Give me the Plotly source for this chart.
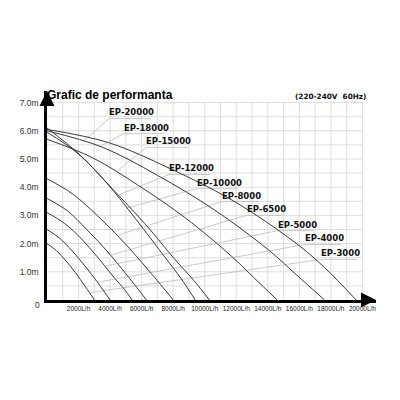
import plotly.graph_objects as go

# pump models and their curves (flow in 1000 L/h, head in m)
models = ["EP-3000", "EP-4000", "EP-5000", "EP-6500", "EP-8000",
          "EP-10000", "EP-12000", "EP-15000", "EP-18000", "EP-20000"]

flow_3000 = [0, 0.6, 1.2, 1.8, 2.4, 2.7, 3.0]
head_3000 = [2.0, 1.75, 1.39, 0.97, 0.5, 0.26, 0]
flow_4000 = [0, 0.8, 1.6, 2.4, 3.2, 3.6, 4.0]
head_4000 = [2.5, 2.19, 1.74, 1.21, 0.63, 0.32, 0]
flow_5000 = [0, 1.1, 2.2, 3.2, 4.3, 4.9, 5.4]
head_5000 = [3.1, 2.72, 2.16, 1.52, 0.77, 0.38, 0]
flow_6500 = [0, 1.3, 2.5, 3.8, 5.0, 5.7, 6.3]
head_6500 = [3.6, 3.16, 2.51, 1.74, 0.93, 0.44, 0]
flow_8000 = [0, 1.6, 3.2, 4.8, 6.4, 7.2, 8.0]
head_8000 = [4.3, 3.77, 2.99, 2.09, 1.08, 0.55, 0]
flow_10000 = [0, 1.9, 3.8, 5.6, 7.5, 8.5, 9.4]
head_10000 = [5.95, 5.22, 4.14, 2.89, 1.5, 0.76, 0]
flow_12000 = [0, 2.1, 4.1, 6.2, 8.2, 9.3, 10.3]
head_12000 = [6.1, 5.14, 3.97, 2.71, 1.38, 0.7, 0]
flow_15000 = [0, 2.9, 5.8, 8.8, 11.7, 13.1, 14.6]
head_15000 = [5.7, 5.04, 4.06, 2.9, 1.55, 0.8, 0]
flow_18000 = [0, 3.5, 7.0, 10.6, 14.1, 15.8, 17.6]
head_18000 = [6.0, 5.42, 4.42, 3.2, 1.75, 0.9, 0]
flow_20000 = [0, 3.9, 7.8, 11.8, 15.7, 17.6, 19.6]
head_20000 = [6.05, 5.58, 4.66, 3.52, 2.05, 1.15, 0]

# callout labels: where the text sits, where its underline ends, where the pointer hits the curve
label_q = [17.4, 16.34, 14.63, 12.65, 11.1, 9.49, 7.74, 6.3, 4.86, 3.95]
label_h = [1.44, 1.97, 2.46, 3.0, 3.49, 3.95, 4.45, 5.41, 5.9, 6.44]
label_end_q = [19.7, 18.64, 16.93, 14.95, 13.4, 12.1, 10.35, 8.9, 7.46, 6.55]
pointer_q = [2.7, 3.2, 3.7, 4.1, 4.5, 5.0, 4.6, 4.4, 3.3, 2.3]
pointer_h = [0.26, 0.63, 1.2, 1.6, 2.3, 3.25, 3.74, 4.55, 5.42, 5.62]

x_ticks = [2, 4, 6, 8, 10, 12, 14, 16, 18, 20]
x_tick_text = ["2000L/h", "4000L/h", "6000L/h", "8000L/h", "10000L/h",
               "12000L/h", "14000L/h", "16000L/h", "18000L/h", "20000L/h"]
y_ticks = [1, 2, 3, 4, 5, 6, 7]
y_tick_text = ["1.0m", "2.0m", "3.0m", "4.0m", "5.0m", "6.0m", "7.0m"]

flows = [flow_3000, flow_4000, flow_5000, flow_6500, flow_8000,
         flow_10000, flow_12000, flow_15000, flow_18000, flow_20000]
heads = [head_3000, head_4000, head_5000, head_6500, head_8000,
         head_10000, head_12000, head_15000, head_18000, head_20000]

fig = go.Figure()

# grid (1000 L/h by 0.5 m), stops at 20000 L/h and 7.0 m
shapes = []
for q in range(1, 21):
    shapes.append(dict(type="line", x0=q, x1=q, y0=0, y1=7, xref="x", yref="y",
                       line=dict(color="#d6d6d6", width=0.8), layer="below"))
for i in range(1, 15):
    h = i * 0.5
    shapes.append(dict(type="line", x0=0, x1=20, y0=h, y1=h, xref="x", yref="y",
                       line=dict(color="#d6d6d6", width=0.8), layer="below"))

# leader lines from the labels to the curves
for i in range(len(models)):
    fig.add_trace(go.Scatter(
        x=[pointer_q[i], label_q[i], label_end_q[i]],
        y=[pointer_h[i], label_h[i], label_h[i]],
        mode="lines", line=dict(color="#bdbdbd", width=0.8),
        hoverinfo="skip",
    ))

for i, name in enumerate(models):
    fig.add_trace(go.Scatter(
        x=flows[i], y=heads[i], mode="lines", name=name,
        line=dict(color="#3a3a3a", width=1, shape="spline", smoothing=1.0),
    ))

annotations = []
for i, name in enumerate(models):
    annotations.append(dict(
        x=label_q[i], y=label_h[i], xref="x", yref="y", text="<b>" + name + "</b>",
        showarrow=False, xanchor="left", yanchor="bottom", yshift=-1, xshift=-2,
        font=dict(family="DejaVu Sans", size=8.5, color="#111"),
    ))

annotations += [
    dict(x=-0.006, y=0.982, xref="paper", yref="paper", text="<b>Grafic de performanta</b>",
         showarrow=False, xanchor="left", yanchor="middle",
         font=dict(family="Liberation Sans", size=12, color="#000")),
    dict(x=0.975, y=0.975, xref="paper", yref="paper", text="<b>(220-240V  60Hz)</b>",
         showarrow=False, xanchor="right", yanchor="middle",
         font=dict(family="DejaVu Sans", size=7.3, color="#111")),
    dict(x=0, y=0, xref="x", yref="y", text="0", showarrow=False,
         xanchor="right", yanchor="middle", xshift=-5, yshift=-5,
         font=dict(family="Liberation Sans", size=8.5, color="#333")),
    # arrow heads on the axes
    dict(x=20.86, y=0, xref="x", yref="y", ax=-14, ay=0, text="", showarrow=True,
         arrowhead=2, arrowsize=1.2, arrowwidth=2.5, arrowcolor="#000"),
    dict(x=0, y=7.41, xref="x", yref="y", ax=0, ay=14, text="", showarrow=True,
         arrowhead=2, arrowsize=1.2, arrowwidth=2.5, arrowcolor="#000"),
]

# the page puts the figure 8px in from the corner, so margins are 8px smaller
fig.update_layout(
    width=400, height=400,
    margin=dict(l=30, r=32, t=83, b=108),
    plot_bgcolor="white", paper_bgcolor="white",
    showlegend=False,
    shapes=shapes,
    annotations=annotations,
    xaxis=dict(range=[0, 20.86], showline=True, linecolor="#000", linewidth=2.5,
               showgrid=False, zeroline=False, ticks="",
               tickvals=x_ticks, ticktext=x_tick_text,
               tickfont=dict(family="Liberation Sans", size=6.5, color="#222")),
    yaxis=dict(range=[0, 7.41], showline=True, linecolor="#000", linewidth=2.5,
               showgrid=False, zeroline=False, ticks="", ticklabelstandoff=4,
               tickvals=y_ticks, ticktext=y_tick_text,
               tickfont=dict(family="Liberation Sans", size=8.5, color="#333")),
)

fig.write_html("out.html")
